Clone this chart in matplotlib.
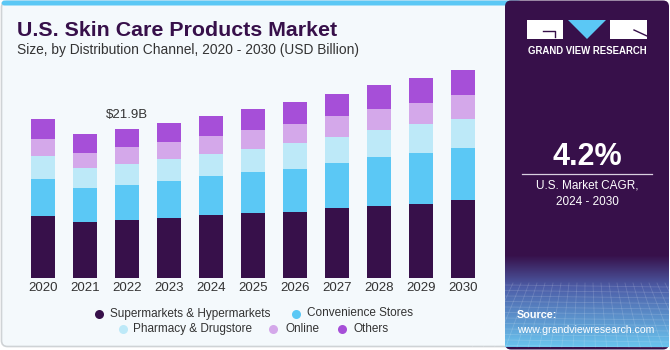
import numpy as np
import matplotlib
matplotlib.use("Agg")
import matplotlib.pyplot as plt
from matplotlib.patches import FancyBboxPatch, Rectangle, Polygon

years = ["2020", "2021", "2022", "2023", "2024", "2025", "2026", "2027", "2028", "2029", "2030"]
supermarkets = [9.18, 8.21, 8.55, 8.84, 9.24, 9.62, 9.77, 10.26, 10.60, 10.94, 11.44]
convenience = [5.38, 5.03, 5.13, 5.43, 5.72, 5.92, 6.26, 6.60, 7.20, 7.39, 7.62]
pharmacy = [3.33, 2.98, 3.13, 3.23, 3.27, 3.42, 3.81, 3.90, 3.95, 4.25, 4.34]
online = [2.54, 2.20, 2.40, 2.49, 2.68, 2.79, 2.83, 3.08, 3.12, 3.17, 3.43]
others = [2.93, 2.70, 2.69, 2.79, 2.93, 3.08, 3.18, 3.23, 3.42, 3.58, 3.75]
series_names = ["Supermarkets & Hypermarkets", "Convenience Stores",
                "Pharmacy & Drugstore", "Online", "Others"]
series_colors = ["#37104a", "#5bc8f5", "#bde9f8", "#d4a8ea", "#a64fd8"]
annot_year = "2022"
annot_text = "$21.9B"

FONT = "Liberation Sans"
plt.rcParams['font.family'] = [FONT, 'DejaVu Sans']

W, H = 670, 350
fig = plt.figure(figsize=(W / 100, H / 100), dpi=100)
fig.patch.set_facecolor("white")

bg = fig.add_axes([0, 0, 1, 1], zorder=0)
bg.set_xlim(0, W)
bg.set_ylim(H, 0)
bg.axis("off")

# main panel
bg.add_patch(FancyBboxPatch((1.5, 1.5), 520, 345, boxstyle="round,pad=0,rounding_size=6",
                            facecolor="#f4f9fc", edgecolor="#cfd3d6", lw=1.2))
bg.add_patch(FancyBboxPatch((1.5, 0.5), 520, 5, boxstyle="round,pad=0,rounding_size=3",
                            facecolor="#5bc8f5", edgecolor="none"))
# right dark panel
bg.add_patch(FancyBboxPatch((505, 0.5), 164, 349, boxstyle="round,pad=0,rounding_size=6",
                            facecolor="#37104a", edgecolor="none"))
# gradient bottom of dark panel
c0 = np.array([0x37, 0x10, 0x4a]) / 255
c1 = np.array([0x4d, 0x5e, 0xa8]) / 255
c2 = np.array([0x6a, 0xc4, 0xee]) / 255
img = np.zeros((100, 1, 3))
for i, g in enumerate(np.linspace(0, 1, 100)):
    if g < 0.35:
        t = g / 0.35
        img[i, 0] = c0 * (1 - t) + c1 * t
    else:
        t = (g - 0.35) / 0.65
        img[i, 0] = c1 * (1 - t) + c2 * t
bg.imshow(img, extent=(505, 669, 347, 255), aspect="auto", zorder=1, interpolation="bilinear")
# faint grid texture
for k in range(12):
    yy = 285 + k * 5.5
    bg.plot([505, 669], [yy, yy + 2], color="white", alpha=0.15, lw=0.6, zorder=2)
for k in range(22):
    xx = 505 + k * 8
    bg.plot([xx, xx + (xx - 587) * 0.4], [283, 347], color="white", alpha=0.15, lw=0.6, zorder=2)

# logo
bg.add_patch(Rectangle((527, 20), 36, 19, facecolor="white", edgecolor="none", zorder=3))
bg.plot([543, 555, 555], [31, 31, 37], color="#37104a", lw=1.0, zorder=4)
bg.add_patch(Polygon([(568, 20), (606, 20), (587, 39)], closed=True, facecolor="#5bc8f5",
                     edgecolor="none", zorder=3))
bg.add_patch(Rectangle((610, 20), 37, 19, facecolor="white", edgecolor="none", zorder=3))
bg.plot([634, 647], [30, 36], color="#37104a", lw=1.0, zorder=4)
bg.text(587, 51, "GRAND VIEW RESEARCH", color="white", fontsize=6.9, fontweight="bold",
        ha="center", va="center", zorder=4)

bg.text(587, 157, "4.2%", color="white", fontsize=22, fontweight="bold", ha="center",
        va="center", zorder=4)
bg.plot([522, 652], [173.5, 173.5], color="#d8cfe0", lw=0.9, zorder=4)
bg.text(587, 186, "U.S. Market CAGR,", color="white", fontsize=8.5, ha="center", va="center", zorder=4)
bg.text(587, 202, "2024 - 2030", color="white", fontsize=8.5, ha="center", va="center", zorder=4)
bg.text(517, 315, "Source:", color="white", fontsize=7.8, fontweight="bold", ha="left", va="center", zorder=4)
bg.text(517, 330, "www.grandviewresearch.com", color="white", fontsize=7.6, ha="left", va="center", zorder=4)

# titles
bg.text(17, 36, "U.S. Skin Care Products Market", color="#37104a", fontsize=15.4,
        fontweight="bold", ha="left", va="baseline", zorder=4)
bg.text(17, 54, "Size, by Distribution Channel, 2020 - 2030 (USD Billion)", color="#333333",
        fontsize=9.9, ha="left", va="baseline", zorder=4)

# legend (manual, 2 rows)
leg_rows = [
    [(0, 99, 110), (1, 296, 307)],
    [(2, 123, 133), (3, 273, 285), (4, 342, 353)],
]
leg_y = [313.5, 329]
for row, yy in zip(leg_rows, leg_y):
    for idx, mx, tx in row:
        bg.plot([mx], [yy], "o", ms=6.5, color=series_colors[idx], mec="none", zorder=4)
        bg.text(tx, yy, series_names[idx], color="#333333", fontsize=8.5, ha="left",
                va="center", zorder=4)

# bar chart
YMAX = 32
ax = fig.add_axes([17.8 / W, 1 - 278.3 / H, 470.4 / W, YMAX * 6.82 / H], zorder=5)
ax.patch.set_alpha(0)
x = np.arange(len(years))
bottom = np.zeros(len(years))
for vals, col in zip([supermarkets, convenience, pharmacy, online, others], series_colors):
    ax.bar(x, vals, bottom=bottom, width=0.57, color=col, edgecolor="none")
    bottom += np.array(vals)
ax.set_xlim(-0.6, 10.6)
ax.set_ylim(0, YMAX)
ax.set_xticks(x)
ax.set_xticklabels(years, fontsize=9.5, color="#333333")
ax.tick_params(axis="x", length=0, pad=2.5)
ax.set_yticks([])
for s in ax.spines.values():
    s.set_visible(False)
ai = years.index(annot_year)
ax.annotate(annot_text, xy=(ai, bottom[ai]), xytext=(0, 10), textcoords="offset points",
            ha="center", va="center", fontsize=9.5, color="#333333")

fig.savefig("out.png", dpi=100, facecolor=fig.get_facecolor())
